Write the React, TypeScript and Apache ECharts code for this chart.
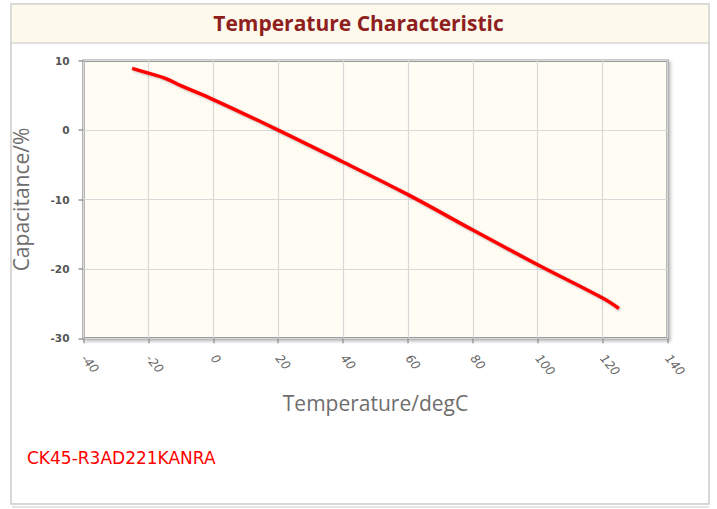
import React, { useEffect, useRef } from "react";
import * as echarts from "echarts";

const temperatures = [-25, -20, -15, -10, 0, 20, 40, 60, 80, 100, 120, 125];
const capacitance = [8.9, 8.2, 7.5, 6.4, 4.4, 0, -4.6, -9.3, -14.4, -19.4, -24.2, -25.7];
const xTicks = { min: -40, max: 140, interval: 20 };
const yTicks = { min: -30, max: 10, interval: 10 };
const titleText = "Temperature Characteristic";
const xName = "Temperature/degC";
const yName = "Capacitance/%";
const partNumber = "CK45-R3AD221KANRA";

export default function App() {
  const ref = useRef<HTMLDivElement>(null);
  useEffect(() => {
    if (!ref.current) return;
    const chart = echarts.init(ref.current, undefined, { renderer: "svg" });
    const data = temperatures.map((t, i) => [t, capacitance[i]]);
    chart.setOption({
      animation: false,
      backgroundColor: "#ffffff",
      title: {
        text: titleText,
        left: "center",
        top: 7,
        textStyle: {
          fontFamily: "Open Sans",
          fontWeight: "bold",
          fontSize: 21,
          color: "#8f1f1f",
        },
      },
      graphic: [
        {
          type: "rect",
          z: -10,
          shape: { x: 11, y: 4, width: 698, height: 500 },
          style: { fill: "#ffffff", stroke: "#cccccc", lineWidth: 1.5 },
        },
        {
          type: "line",
          z: -10,
          shape: { x1: 12, y1: 507, x2: 709, y2: 507 },
          style: { stroke: "#dddddd", lineWidth: 1.5 },
        },
        {
          type: "rect",
          z: -9,
          shape: { x: 11, y: 4, width: 698, height: 39 },
          style: { fill: "#fdf9ec", stroke: "#d6d6d6", lineWidth: 1.5 },
        },
        {
          type: "text",
          left: 27,
          top: 449,
          style: {
            text: partNumber,
            fill: "#ff0000",
            fontFamily: "DejaVu Sans",
            fontSize: 17,
          },
        },
      ],
      grid: {
        left: 83.5,
        top: 60.7,
        width: 584,
        height: 277.6,
        show: true,
        backgroundColor: "#fffcf3",
        borderColor: "#9a9a9a",
        borderWidth: 2.5,
        shadowColor: "rgba(0,0,0,0.25)",
        shadowBlur: 3,
        shadowOffsetX: 2,
        shadowOffsetY: 2,
      },
      xAxis: {
        type: "value",
        min: xTicks.min,
        max: xTicks.max,
        interval: xTicks.interval,
        name: xName,
        nameLocation: "middle",
        nameGap: 54,
        nameTextStyle: { fontFamily: "Open Sans", fontSize: 21, color: "#6e6e6e" },
        axisLine: { show: false, onZero: false },
        axisTick: { show: true, length: 5, lineStyle: { color: "#9a9a9a", width: 1.5 } },
        axisLabel: {
          rotate: -50,
          margin: 18,
          color: "#666666",
          fontFamily: "DejaVu Sans",
          fontSize: 12,
          fontStyle: "italic",
        },
        splitLine: { show: true, lineStyle: { color: "#d9d9d9", width: 1.2 } },
      },
      yAxis: {
        type: "value",
        min: yTicks.min,
        max: yTicks.max,
        interval: yTicks.interval,
        name: yName,
        nameLocation: "middle",
        nameGap: 52,
        nameTextStyle: { fontFamily: "Open Sans", fontSize: 21, color: "#6e6e6e" },
        axisLine: { show: false, onZero: false },
        axisTick: { show: true, length: 5, lineStyle: { color: "#9a9a9a", width: 1.5 } },
        axisLabel: {
          margin: 14,
          color: "#555555",
          fontFamily: "DejaVu Sans",
          fontWeight: "bold",
          fontSize: 10.5,
        },
        splitLine: { show: true, lineStyle: { color: "#d9d9d9", width: 1.2 } },
      },
      series: [
        {
          type: "line",
          data,
          smooth: 0.4,
          symbol: "none",
          lineStyle: {
            color: "#ff0000",
            width: 3.5,
            shadowColor: "rgba(0,0,0,0.3)",
            shadowBlur: 2,
            shadowOffsetX: 1,
            shadowOffsetY: 1,
          },
        },
      ],
    });
    return () => chart.dispose();
  }, []);
  return (
    <div
      ref={ref}
      style={{ position: "fixed", left: 0, top: 0, width: 717, height: 509 }}
    />
  );
}
